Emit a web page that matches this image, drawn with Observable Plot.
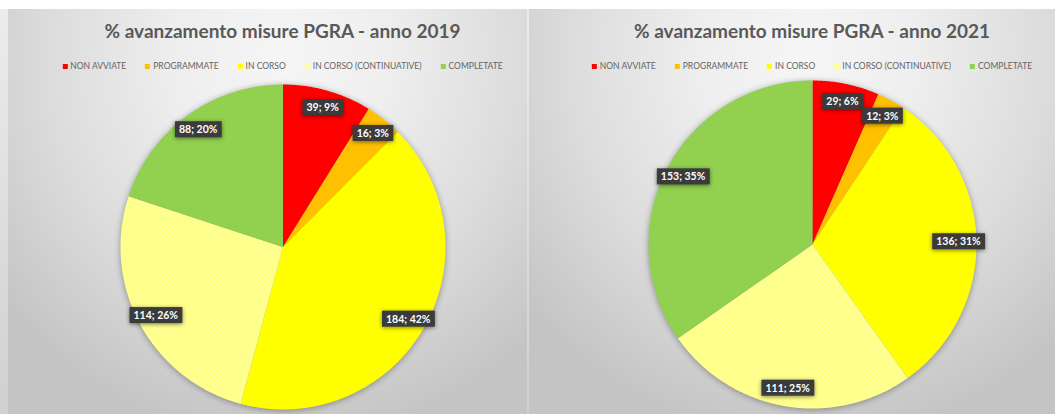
<!DOCTYPE html>
<html><head><meta charset="utf-8">
<script src="https://cdn.jsdelivr.net/npm/d3@7"></script>
<script src="https://cdn.jsdelivr.net/npm/@observablehq/plot@0.6"></script>
<style>
body{margin:0;background:#fff;font-family:Lato,"Open Sans",sans-serif;}
#wrap{position:relative;width:1055px;height:414px;overflow:hidden;background:linear-gradient(#fff 0px,#fff 9px,#ececec 9px,#d0d0d0 414px)}
.panel{position:absolute;top:9px;height:405px;
 background:radial-gradient(ellipse 70% 95% at 53% 12%, #f6f6f6 0%, #eeeeee 30%, #dcdcdc 65%, #c4c4c4 100%);}
.title{position:absolute;top:10px;text-align:center;font-weight:700;font-size:19px;color:#595959;white-space:nowrap}
.legend{position:absolute;top:52px;display:flex;gap:19px;font-size:8.5px;color:#636363;white-space:nowrap;transform:translateX(-50%)}
.legend span{display:flex;align-items:center}
.legend i{display:inline-block;width:5px;height:5px;margin-right:3px}
.chart{position:absolute;left:0;top:69px}
</style></head>
<body>
<svg width="0" height="0" style="position:absolute">
 <defs>
  <pattern id="hatch" width="3" height="3" patternUnits="userSpaceOnUse">
   <rect width="3" height="3" fill="#ffffc8"/>
   <rect width="1.5" height="1.5" fill="#ffff50"/>
   <rect x="1.5" y="1.5" width="1.5" height="1.5" fill="#ffff50"/>
  </pattern>
 </defs>
</svg>
<div id="wrap"></div>
<script>
const categories = ["NON AVVIATE", "PROGRAMMATE", "IN CORSO", "IN CORSO (CONTINUATIVE)", "COMPLETATE"];
const values2019 = [39, 16, 184, 114, 88];
const percent2019 = [9, 3, 42, 26, 20];
const values2021 = [29, 12, 136, 111, 153];
const percent2021 = [6, 3, 31, 25, 35];
const titles = ["% avanzamento misure PGRA - anno 2019", "% avanzamento misure PGRA - anno 2021"];

const colors = ["#ff0000", "#ffc000", "#ffff00", "url(#hatch)", "#92d050"];
const legendColors = ["#ff0000", "#ffc000", "#ffff00", "#ffff99", "#92d050"];

const panels = [
  {left: 8, width: 519, values: values2019, pct: percent2019, title: titles[0], cx: 274.5, cy: 168.5, r: 162.5},
  {left: 529, width: 526, values: values2021, pct: percent2021, title: titles[1], cx: 283, cy: 166, r: 164}
];

const wrap = document.getElementById("wrap");

panels.forEach(p => {
  const panel = document.createElement("div");
  panel.className = "panel";
  panel.style.left = p.left + "px";
  panel.style.width = p.width + "px";
  wrap.appendChild(panel);

  const t = document.createElement("div");
  t.className = "title";
  t.style.left = (p.cx - 300) + "px";
  t.style.width = "600px";
  t.textContent = p.title;
  panel.appendChild(t);

  const lg = document.createElement("div");
  lg.className = "legend";
  lg.style.left = p.cx + "px";
  categories.forEach((c, i) => {
    const s = document.createElement("span");
    s.innerHTML = `<i style="background:${legendColors[i]}"></i>${c}`;
    lg.appendChild(s);
  });
  panel.appendChild(lg);

  const arcs = d3.pie().sort(null).value(d => d)(p.values);
  const slices = arcs.map((a, i) => ({
    category: categories[i], value: p.values[i], pct: p.pct[i],
    a0: a.startAngle, a1: a.endAngle, mid: (a.startAngle + a.endAngle) / 2
  }));
  const features = slices.map(s => {
    const n = Math.max(2, Math.ceil((s.a1 - s.a0) / 0.01));
    const ring = [[0, 0]];
    for (let k = 0; k <= n; k++) {
      const a = s.a0 + (s.a1 - s.a0) * k / n;
      ring.push([Math.sin(a), Math.cos(a)]);
    }
    ring.push([0, 0]);
    return {type: "Feature", properties: s, geometry: {type: "Polygon", coordinates: [ring]}};
  });

  const chart = Plot.plot({
    width: p.width,
    height: 405 - 69,
    margin: 0,
    style: {background: "transparent", overflow: "visible"},
    projection: d3.geoIdentity().reflectY(true).scale(p.r).translate([p.cx, p.cy]),
    color: {domain: categories, range: colors},
    marks: [
      Plot.geo(features, {fill: d => d.properties.category, stroke: "none"}),
      Plot.text(slices, {
        x: d => 0.89 * Math.sin(d.mid),
        y: d => 0.89 * Math.cos(d.mid),
        text: d => `${d.value}; ${d.pct}%`,
        fill: "white", fontWeight: "bold", fontSize: 10.5,
        fontFamily: "Lato, 'Open Sans', sans-serif"
      })
    ]
  });
  chart.classList.add("chart");
  panel.appendChild(chart);

  const geoG = chart.querySelector('g[aria-label="geo"]');
  if (geoG) geoG.style.filter = "drop-shadow(0px 1px 3px rgba(0,0,0,0.35))";
  const textG = chart.querySelector('g[aria-label="text"]');
  if (textG) {
    textG.querySelectorAll("text").forEach(tx => {
      const b = tx.getBBox();
      const r = document.createElementNS("http://www.w3.org/2000/svg", "rect");
      const tr = tx.getAttribute("transform");
      r.setAttribute("x", b.x - 4);
      r.setAttribute("y", b.y - 2);
      r.setAttribute("width", b.width + 8);
      r.setAttribute("height", b.height + 4);
      r.setAttribute("fill", "#3b3b3b");
      r.setAttribute("stroke", "none");
      if (tr) r.setAttribute("transform", tr);
      r.style.filter = "drop-shadow(0px 1px 2px rgba(0,0,0,0.5))";
      tx.parentNode.insertBefore(r, tx);
    });
  }
});
</script>
</body></html>
